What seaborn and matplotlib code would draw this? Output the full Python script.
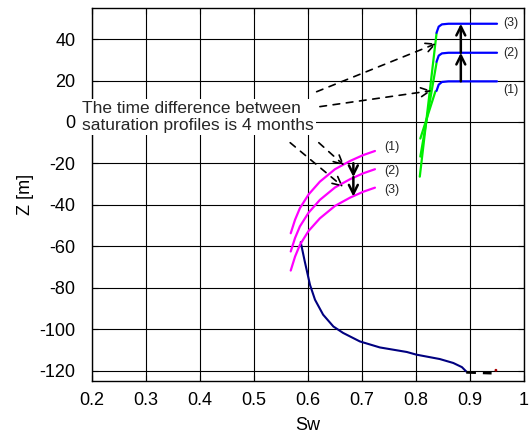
import numpy as np
import pandas as pd
import matplotlib
matplotlib.use("Agg")
import matplotlib.pyplot as plt
import seaborn as sns

# ---------------- data ----------------
# magenta saturation profiles (lower region)
mag_sw = [0.568, 0.576, 0.585, 0.601, 0.622, 0.650, 0.678, 0.702, 0.724]
mag_z1 = [-53.7, -47.2, -41.6, -35.0, -28.8, -22.8, -18.8, -16.0, -14.0]
mag_z2 = [-62.5, -56.0, -50.4, -43.8, -37.6, -31.6, -27.6, -24.8, -22.8]
mag_z3 = [-71.7, -65.0, -59.3, -52.6, -46.5, -40.5, -36.5, -33.7, -31.7]

# blue saturation profiles (upper region)
blue_sw = [0.838, 0.842, 0.848, 0.860, 0.950]
blue_z1 = [15.0, 18.0, 19.3, 19.6, 19.6]
blue_z2 = [29.0, 32.0, 33.1, 33.4, 33.4]
blue_z3 = [43.0, 46.0, 47.1, 47.4, 47.4]

# green fronts
green_sw_a = [0.807, 0.838]
green_z_a = [-26.4, 42.7]
green_sw_b = [0.808, 0.838]
green_z_b = [-16.7, 28.5]
green_sw_c = [0.808, 0.836]
green_z_c = [-8.0, 14.8]

# navy curve
navy_sw = [0.5865, 0.594, 0.6037, 0.613, 0.628, 0.647, 0.665, 0.696, 0.733,
           0.783, 0.801, 0.844, 0.869, 0.885, 0.893]
navy_z = [-58.0, -67.3, -78.6, -85.8, -93.0, -98.7, -101.8, -105.9, -108.8,
          -111.0, -112.3, -114.4, -116.3, -118.3, -120.4]

# black dashed tail and red dot
tail_sw = [0.893, 0.940]
tail_z = [-120.8, -121.2]
dot_sw = [0.948]
dot_z = [-119.8]

x_ticks = [0.2, 0.3, 0.4, 0.5, 0.6, 0.7, 0.8, 0.9, 1.0]
x_tick_labels = ["0.2", "0.3", "0.4", "0.5", "0.6", "0.7", "0.8", "0.9", "1"]
y_ticks = [-120, -100, -80, -60, -40, -20, 0, 20, 40]
y_tick_labels = ["-120", "-100", "-80", "-60", "-40", "-20", "0", "20", "40"]

profile_labels = ["(1)", "(2)", "(3)"]
note_text = "The time difference between\nsaturation profiles is 4 months"

# ---------------- style ----------------
sns.set_theme(style="white")
plt.rcParams["font.family"] = ["Liberation Sans", "DejaVu Sans"]

fig = plt.figure(figsize=(5.29, 4.36), dpi=100)
ax = fig.add_axes([92 / 529, 1 - 381 / 436, 432 / 529, 373 / 436])


def draw(sw, z, color, lw, ls="-", zorder=3):
    df = pd.DataFrame({"Sw": sw, "Z": z})
    sns.lineplot(data=df, x="Sw", y="Z", ax=ax, color=color, linewidth=lw,
                 linestyle=ls, sort=False, estimator=None, zorder=zorder)


draw(navy_sw, navy_z, "#000080", 1.5)
draw(tail_sw, tail_z, "black", 2.0, ls=(0, (3.5, 2.5)))
sns.scatterplot(x=dot_sw, y=dot_z, ax=ax, color="#aa0000", s=4, zorder=4, edgecolor="none")

for zz in (mag_z1, mag_z2, mag_z3):
    draw(mag_sw, zz, "#ff00ff", 1.6)

for sw, zz in ((green_sw_a, green_z_a), (green_sw_b, green_z_b), (green_sw_c, green_z_c)):
    draw(sw, zz, "#00ee00", 1.6)

for zz in (blue_z1, blue_z2, blue_z3):
    draw(blue_sw, zz, "#0000ff", 1.6, zorder=4)

# profile labels
fs_small = 9
ax.text(0.961, 47.8, profile_labels[2], fontsize=fs_small, va="center", ha="left")
ax.text(0.961, 33.1, profile_labels[1], fontsize=fs_small, va="center", ha="left")
ax.text(0.961, 15.2, profile_labels[0], fontsize=fs_small, va="center", ha="left")
ax.text(0.742, -12.2, profile_labels[0], fontsize=fs_small, va="center", ha="left")
ax.text(0.742, -23.9, profile_labels[1], fontsize=fs_small, va="center", ha="left")
ax.text(0.742, -32.8, profile_labels[2], fontsize=fs_small, va="center", ha="left")

# solid arrows
solid = dict(arrowstyle="->", color="black", lw=1.8, mutation_scale=16,
             shrinkA=0, shrinkB=0)
ax.annotate("", xy=(0.883, 33.4), xytext=(0.883, 19.6), arrowprops=solid, zorder=5)
ax.annotate("", xy=(0.883, 47.4), xytext=(0.883, 33.4), arrowprops=solid, zorder=5)
ax.annotate("", xy=(0.684, -26.6), xytext=(0.684, -19.9), arrowprops=solid, zorder=5)
ax.annotate("", xy=(0.684, -36.0), xytext=(0.684, -26.6), arrowprops=solid, zorder=5)

# dashed arrows from the note
dashed = dict(arrowstyle="->", color="black", lw=1.2, mutation_scale=16,
              linestyle=(0, (4, 4)), shrinkA=0, shrinkB=0)
ax.annotate("", xy=(0.838, 37.9), xytext=(0.616, 14.6), arrowprops=dashed, zorder=5)
ax.annotate("", xy=(0.829, 15.1), xytext=(0.622, 7.4), arrowprops=dashed, zorder=5)
ax.annotate("", xy=(0.667, -21.0), xytext=(0.620, -10.0), arrowprops=dashed, zorder=5)
ax.annotate("", xy=(0.665, -31.3), xytext=(0.567, -10.0), arrowprops=dashed, zorder=5)

# note
ax.text(0.181, 2.4, note_text, fontsize=12.5, ha="left", va="center",
        linespacing=1.2, zorder=6, clip_on=False,
        bbox=dict(facecolor="white", edgecolor="none", pad=1.5))

# axes
ax.set_xlim(0.2, 1.0)
ax.set_ylim(-125, 55)
ax.set_xticks(x_ticks)
ax.set_xticklabels(x_tick_labels)
ax.set_yticks(y_ticks)
ax.set_yticklabels(y_tick_labels)
ax.grid(True, color="black", linewidth=0.8)
ax.set_axisbelow(True)
for s in ax.spines.values():
    s.set_color("black")
    s.set_linewidth(1.0)
ax.tick_params(axis="both", direction="in", length=4, width=0.8, colors="black",
               labelsize=13, top=True, right=True, bottom=True, left=True)
ax.tick_params(axis="y", pad=12)
ax.tick_params(axis="x", pad=8)
ax.set_xlabel("Sw", fontsize=13, color="black", labelpad=6)
ax.set_ylabel("Z [m]", fontsize=13, color="black", labelpad=4)

fig.savefig("out.png", dpi=100)
